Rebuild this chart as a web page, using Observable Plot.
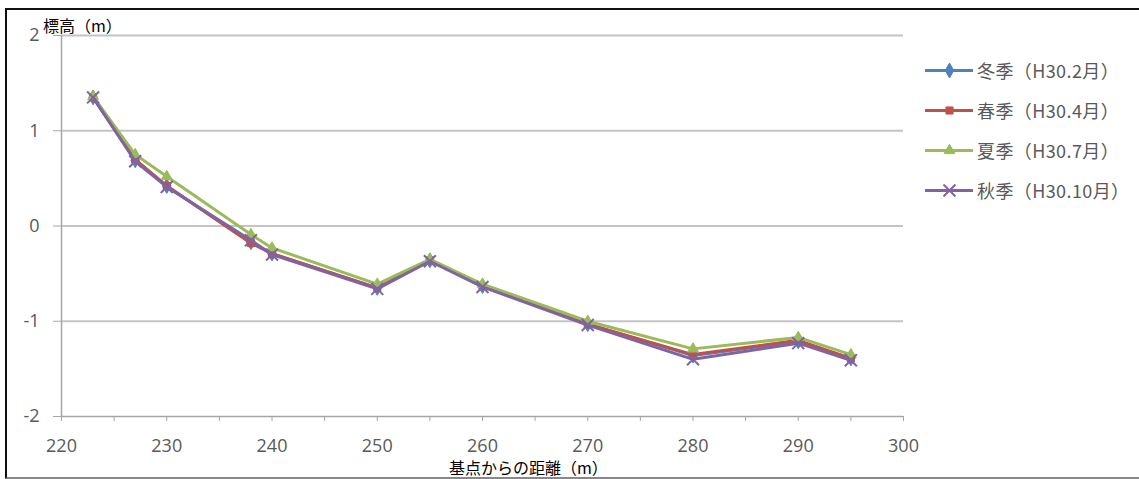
<!DOCTYPE html>
<html>
<head>
<meta charset="utf-8">
<script src="https://cdn.jsdelivr.net/npm/d3@7"></script>
<script src="https://cdn.jsdelivr.net/npm/@observablehq/plot@0.6"></script>
<style>
  html, body { margin: 0; padding: 0; background: #fff; }
  #wrap { position: relative; width: 1139px; height: 479px; overflow: hidden; font-family: "Noto Sans CJK JP", "Noto Sans", sans-serif; }
  #frame { position: absolute; left: 5px; top: 8px; width: 1140px; height: 467px; border-left: 2px solid #111; border-top: 2px solid #111; border-bottom: 2px solid #888; }
  #chart { position: absolute; left: 0; top: 0; }
  .ttl { position: absolute; color: #000; white-space: nowrap; font-size: 16px; line-height: 1; }
  #legend { position: absolute; left: 924px; top: 0; }
  .li { position: absolute; left: 0; display: flex; align-items: center; white-space: nowrap; font-size: 18px; letter-spacing: 0.4px; color: #595959; }
  .li svg { margin-right: 3px; flex-shrink: 0; max-width: none !important; }
</style>
</head>
<body>
<div id="wrap">
  <div id="frame"></div>
  <div id="chart"></div>
  <div class="ttl" id="ytitle"></div>
  <div class="ttl" id="xtitle"></div>
  <div id="legend"></div>
</div>
<script>
// Data
const distances = [223, 227, 230, 238, 240, 250, 255, 260, 270, 280, 290, 295];
const seriesNames = ["冬季（H30.2月）", "春季（H30.4月）", "夏季（H30.7月）", "秋季（H30.10月）"];
const winter = [1.35, 0.69, 0.42, -0.17, -0.29, -0.65, -0.36, -0.63, -1.03, -1.36, -1.21, -1.39];
const spring = [1.35, 0.70, 0.42, -0.18, -0.29, -0.65, -0.36, -0.63, -1.03, -1.35, -1.20, -1.39];
const summer = [1.36, 0.75, 0.52, -0.09, -0.23, -0.61, -0.35, -0.61, -1.00, -1.29, -1.17, -1.35];
const autumn = [1.35, 0.68, 0.41, -0.15, -0.30, -0.66, -0.37, -0.64, -1.04, -1.40, -1.23, -1.41];
const xTicks = [220, 230, 240, 250, 260, 270, 280, 290, 300];
const xMinorTicks = [220, 225, 230, 235, 240, 245, 250, 255, 260, 265, 270, 275, 280, 285, 290, 295, 300];
const yTicks = [-2, -1, 0, 1, 2];
const yTitle = "標高（m）";
const xTitle = "基点からの距離（m）";

const colors = ["#4F81BD", "#C0504D", "#9BBB59", "#8064A2"];
const symbols = ["diamond", "square", "triangle", "times"];
const symbolR = [4.5, 4, 4, 5.5];
const valuesList = [winter, spring, summer, autumn];

const rows = [];
valuesList.forEach((vals, si) => {
  vals.forEach((v, i) => rows.push({series: seriesNames[si], x: distances[i], y: v}));
});

const marks = [
  Plot.ruleY(yTicks.filter(d => d !== -2), {stroke: "#c4c4c4", strokeWidth: 2}),
  Plot.ruleX([220], {y1: -2, y2: 2, stroke: "#a6a6a6", strokeWidth: 1.5}),
  Plot.ruleY([-2], {stroke: "#a6a6a6", strokeWidth: 1.5}),
  Plot.axisX({ticks: xMinorTicks, tickSize: 5, tickFormat: d => xTicks.includes(d) ? String(d) : "", fontSize: 18, tickPadding: 18, stroke: "#a6a6a6", fill: "#595959", label: null}),
  Plot.axisY({ticks: yTicks, tickSize: 8, tickPadding: 14, tickFormat: d => String(d), fontSize: 18, stroke: "#a6a6a6", fill: "#595959", label: null})
];
seriesNames.forEach((name, si) => {
  const data = rows.filter(r => r.series === name);
  marks.push(Plot.line(data, {x: "x", y: "y", stroke: colors[si], strokeWidth: 3}));
  marks.push(Plot.dot(data, {x: "x", y: "y", symbol: () => symbols[si], r: symbolR[si], fill: symbols[si] === "times" ? "none" : colors[si], stroke: colors[si], strokeWidth: symbols[si] === "times" ? 2 : 1}));
});

const chart = Plot.plot({
  width: 1139,
  height: 479,
  marginLeft: 61,
  marginRight: 236,
  marginTop: 35,
  marginBottom: 63,
  style: {background: "transparent", fontFamily: "'Open Sans', 'Noto Sans', sans-serif", fontSize: "18px"},
  x: {domain: [220, 300], axis: null},
  y: {domain: [-2, 2], axis: null},
  symbol: {type: "identity"},
  marks
});
document.getElementById("chart").appendChild(chart);

const yt = document.getElementById("ytitle");
yt.textContent = yTitle; yt.style.left = "43px"; yt.style.top = "17px";
const xt = document.getElementById("xtitle");
xt.textContent = xTitle; xt.style.left = "449px"; xt.style.top = "459px";

const leg = document.getElementById("legend");
const legTops = [57, 97, 137, 177];
seriesNames.forEach((name, si) => {
  const item = document.createElement("div");
  item.className = "li";
  item.style.top = legTops[si] + "px";
  const sw = Plot.plot({
    width: 50, height: 24, margin: 0,
    x: {domain: [0, 1], axis: null}, y: {domain: [0, 1], axis: null},
    symbol: {type: "identity"},
    style: {background: "transparent", maxWidth: "none"},
    marks: [
      Plot.ruleY([0.5], {x1: 0.02, x2: 0.98, stroke: colors[si], strokeWidth: 3}),
      Plot.dot([{x: 0.5, y: 0.5}], {x: "x", y: "y", symbol: () => symbols[si], r: symbolR[si], fill: symbols[si] === "times" ? "none" : colors[si], stroke: colors[si], strokeWidth: symbols[si] === "times" ? 2 : 1})
    ]
  });
  sw.style.width = "50px";
  sw.style.height = "24px";
  item.appendChild(sw);
  const t = document.createElement("span");
  t.textContent = name;
  item.appendChild(t);
  leg.appendChild(item);
});
</script>
</body>
</html>
